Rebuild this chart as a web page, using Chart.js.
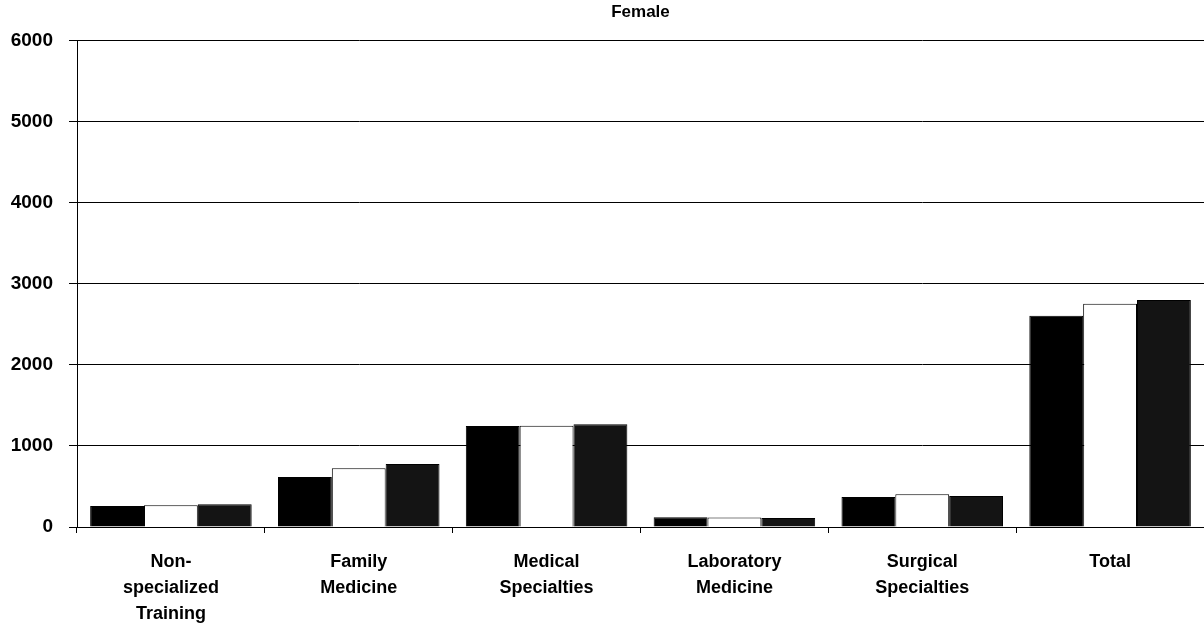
<!DOCTYPE html>
<html>
<head>
<meta charset="utf-8">
<script src="https://cdn.jsdelivr.net/npm/chart.js@4/dist/chart.umd.min.js"></script>
<style>
  html, body { margin: 0; padding: 0; background: #fff; }
  #chart { display: block; }
</style>
</head>
<body>
<canvas id="chart" width="1204" height="629"></canvas>
<script>
// Categories (multi-line labels as in the source)
const categories = [
    ['Non-', 'specialized', 'Training'],
    ['Family', 'Medicine'],
    ['Medical', 'Specialties'],
    ['Laboratory', 'Medicine'],
    ['Surgical', 'Specialties'],
    ['Total']
];

// Three series (black, white, dark stippled)
const seriesBlack = [260, 615, 1245, 120, 370, 2605];
const seriesWhite = [268, 725, 1248, 118, 405, 2752];
const seriesDark  = [282, 778, 1268, 112, 383, 2800];

const yTicks = [0, 1000, 2000, 3000, 4000, 5000, 6000];

const fontFamily = '"Liberation Sans", Arial, Helvetica, sans-serif';

const ctx = document.getElementById('chart');

new Chart(ctx, {
    type: 'bar',
    data: {
        labels: categories,
        datasets: [
            {
                label: 'Series 1',
                data: seriesBlack,
                backgroundColor: '#000000',
                borderColor: '#000000',
                borderWidth: 1
            },
            {
                label: 'Series 2',
                data: seriesWhite,
                backgroundColor: '#ffffff',
                borderColor: '#000000',
                borderWidth: 1
            },
            {
                label: 'Series 3',
                data: seriesDark,
                backgroundColor: '#141414',
                borderColor: '#000000',
                borderWidth: 1
            }
        ]
    },
    options: {
        responsive: false,
        animation: false,
        barPercentage: 1.0,
        categoryPercentage: 0.86,
        layout: {
            padding: { left: 0, right: 0, top: 0, bottom: 0 }
        },
        plugins: {
            legend: { display: false },
            tooltip: { enabled: false },
            title: {
                display: true,
                fullSize: false,
                text: 'Female',
                color: '#000',
                font: { family: fontFamily, size: 17, weight: 'bold' },
                padding: { top: 2, bottom: 18 }
            }
        },
        scales: {
            x: {
                afterFit: function(scale) { scale.height = 102; },
                border: { color: '#000', width: 1 },
                grid: {
                    offset: true,
                    drawOnChartArea: false,
                    drawTicks: true,
                    tickLength: 6,
                    color: '#000'
                },
                ticks: {
                    color: '#000',
                    padding: 16,
                    maxRotation: 0,
                    autoSkip: false,
                    font: { family: fontFamily, size: 18, weight: 'bold', lineHeight: 1.45 }
                }
            },
            y: {
                min: 0,
                max: 6000,
                afterFit: function(scale) { scale.width = 77; },
                afterBuildTicks: function(scale) {
                    scale.ticks = yTicks.map(v => ({ value: v }));
                },
                border: { color: '#000', width: 1 },
                grid: {
                    color: '#000',
                    lineWidth: 1,
                    drawTicks: true,
                    tickLength: 8
                },
                ticks: {
                    color: '#000',
                    padding: 16,
                    font: { family: fontFamily, size: 19, weight: 'bold' },
                    callback: function(value) { return String(value); }
                }
            }
        }
    }
});
</script>
</body>
</html>
